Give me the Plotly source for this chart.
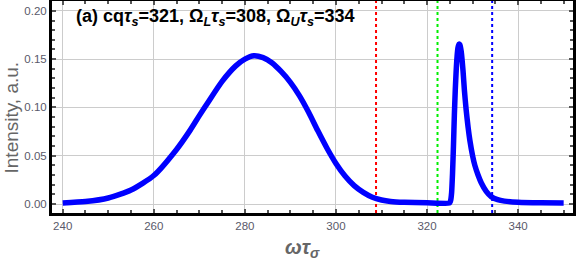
import plotly.graph_objects as go

# spectrum
omega = [240, 245, 250, 255, 260, 265, 268, 270, 272, 275, 278, 280, 282, 284,
         286, 288, 290, 292, 294, 296, 298, 300, 302, 304, 306, 308, 310, 312,
         315, 320, 325.0, 325.2, 325.4, 325.6, 325.8, 326.0, 326.2, 326.4,
         326.6, 326.8, 327.0, 327.2, 327.5, 327.9, 328.2, 328.6, 329.0, 329.4,
         330.0, 330.5, 331.2, 331.9, 333.0, 334.1, 335.5, 337, 340, 345, 350]
intensity = [0.0010, 0.0025, 0.0062, 0.0145, 0.0295, 0.0565, 0.0765, 0.0915,
             0.1060, 0.1270, 0.1430, 0.1500, 0.1535, 0.1515, 0.1460, 0.1370,
             0.1260, 0.1120, 0.0950, 0.0760, 0.0580, 0.0420, 0.0290, 0.0190,
             0.0120, 0.0070, 0.0042, 0.0027, 0.0018, 0.0012, 0.0013, 0.0040,
             0.0120, 0.0320, 0.0600, 0.0920, 0.1180, 0.1380, 0.1530, 0.1620,
             0.1655, 0.1650, 0.1580, 0.1380, 0.1180, 0.0970, 0.0800, 0.0660,
             0.0500, 0.0400, 0.0300, 0.0220, 0.0130, 0.0075, 0.0045, 0.0030,
             0.0018, 0.0012, 0.0010]

# vertical markers: Omega_L, cq, Omega_U
marker_x = [308.8, 322.3, 334.3]
marker_colors = ["#ff0000", "#00ee00", "#0000ff"]

x_range = [237.65, 352.05]
y_range = [-0.0093, 0.2102]

TICK = "#59596a"

fig = go.Figure()
for xv, col in zip(marker_x, marker_colors):
    fig.add_trace(go.Scatter(x=[xv, xv], y=y_range, mode="lines",
                             line=dict(color=col, width=2, dash="3px,3px"),
                             hoverinfo="skip", showlegend=False))
fig.add_trace(go.Scatter(x=omega, y=intensity, mode="lines",
                         line=dict(color="#0000ff", width=5.5, shape="spline",
                                   smoothing=0.6),
                         showlegend=False))

axis_common = dict(showline=True, linecolor="black", linewidth=3, mirror="ticks",
                   ticks="inside", ticklen=4, tickwidth=1.5, tickcolor="#555",
                   showgrid=True, gridcolor="#cccccc", gridwidth=1, zeroline=False,
                   automargin=False,
                   tickfont=dict(family="Liberation Sans, Arial", size=11.5,
                                 color=TICK))
fig.update_xaxes(range=x_range, tickvals=[240, 260, 280, 300, 320, 340],
                 minor=dict(dtick=5, tick0=240, ticks="inside", ticklen=3,
                            tickcolor="#555", showgrid=False),
                 **axis_common)
fig.update_yaxes(range=y_range, tickvals=[0, 0.05, 0.10, 0.15, 0.20],
                 tickformat=".2f",
                 minor=dict(dtick=0.01, tick0=0, ticks="inside", ticklen=3,
                            tickcolor="#555", showgrid=False),
                 **axis_common)

title = ("<b>(a) cq<i>τ<sub>s</sub></i>=321, Ω<sub><i>L</i></sub><i>τ<sub>s</sub></i>=308, "
         "Ω<sub><i>U</i></sub><i>τ<sub>s</sub></i>=334</b>")
fig.add_annotation(text=title, xref="paper", yref="paper", x=0.042, y=0.92,
                   xanchor="left", yanchor="middle", showarrow=False,
                   font=dict(family="Liberation Sans, Arial", size=18, color="black"))
fig.add_annotation(text="Intensity, a.u.", xref="paper", yref="paper",
                   x=-0.077, y=0.45, textangle=-90, xanchor="center", yanchor="middle",
                   showarrow=False,
                   font=dict(family="Liberation Sans, Arial", size=19, color="#666666"))
fig.add_annotation(text="<b><i>ωτ<sub>σ</sub></i></b>", xref="paper", yref="paper",
                   x=0.48, y=-0.1, xanchor="center", yanchor="top", showarrow=False,
                   font=dict(family="Liberation Sans, Arial", size=20, color="#666666"))

fig.update_layout(width=576, height=260, margin=dict(l=52, r=3, t=1, b=47),
                  plot_bgcolor="white", paper_bgcolor="white")

fig.write_html("out.html", config={"displayModeBar": False},
               post_script="document.body.style.margin='0';")
